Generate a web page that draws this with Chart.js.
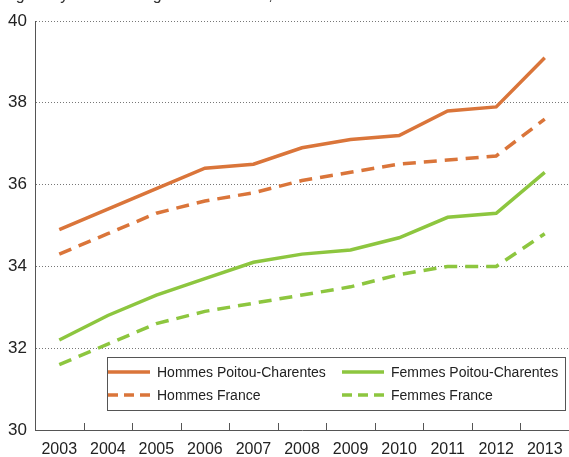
<!DOCTYPE html>
<html>
<head>
<meta charset="utf-8">
<script src="https://cdn.jsdelivr.net/npm/chart.js@4"></script>
<style>
  body { margin: 0; background: #fff; }
  #wrap { width: 569px; height: 457px; }
</style>
</head>
<body>
<div id="wrap"><canvas id="graphique" width="569" height="457"></canvas></div>
<script>
// données
const annees = ['2003', '2004', '2005', '2006', '2007', '2008', '2009', '2010', '2011', '2012', '2013'];
const hommesPC = [34.9, 35.4, 35.9, 36.4, 36.5, 36.9, 37.1, 37.2, 37.8, 37.9, 39.1];
const hommesFrance = [34.3, 34.8, 35.3, 35.6, 35.8, 36.1, 36.3, 36.5, 36.6, 36.7, 37.6];
const femmesPC = [32.2, 32.8, 33.3, 33.7, 34.1, 34.3, 34.4, 34.7, 35.2, 35.3, 36.3];
const femmesFrance = [31.6, 32.1, 32.6, 32.9, 33.1, 33.3, 33.5, 33.8, 34.0, 34.0, 34.8];
const titre = 'Âge moyen au mariage selon le sexe, en années';

const ORANGE = 'rgb(218, 117, 58)';
const VERT = 'rgb(141, 198, 63)';
const POLICE = "'Liberation Sans', Arial, sans-serif";

// titre coupé en haut de l'image (seules les queues des lettres restent visibles)
const titrePlugin = {
    id: 'titre',
    afterDraw(chart) {
        const ctx = chart.ctx;
        ctx.save();
        ctx.font = '16px ' + POLICE;
        ctx.fillStyle = '#333';
        ctx.textBaseline = 'alphabetic';
        ctx.fillText(titre, 5, -0.5);
        ctx.restore();
    }
};

// petites graduations vers le haut entre les années
const graduationsPlugin = {
    id: 'graduations',
    afterDraw(chart) {
        const x = chart.scales.x;
        const ctx = chart.ctx;
        const bas = chart.chartArea.bottom;
        ctx.save();
        ctx.strokeStyle = '#555';
        ctx.lineWidth = 1;
        for (let i = 0; i < annees.length - 1; i++) {
            const px = Math.round((x.getPixelForTick(i) + x.getPixelForTick(i + 1)) / 2) + 0.5;
            ctx.beginPath();
            ctx.moveTo(px, bas);
            ctx.lineTo(px, bas - 7);
            ctx.stroke();
        }
        ctx.restore();
    }
};

// légende encadrée dans la zone du graphique
const legendePlugin = {
    id: 'legende',
    afterDraw(chart) {
        const ctx = chart.ctx;
        const boite = { x: 107.5, y: 357.5, w: 458, h: 53 };
        ctx.save();
        ctx.fillStyle = '#fff';
        ctx.fillRect(boite.x, boite.y, boite.w, boite.h);
        ctx.strokeStyle = '#555';
        ctx.lineWidth = 1;
        ctx.strokeRect(boite.x, boite.y, boite.w, boite.h);

        const colonnes = [108, 342];
        const lignes = [372, 395];
        chart.data.datasets.forEach((ds, i) => {
            const col = colonnes[Math.floor(i / 2)];
            const lig = lignes[i % 2];
            ctx.strokeStyle = ds.borderColor;
            ctx.lineWidth = 3.5;
            ctx.setLineDash(ds.borderDash && ds.borderDash.length ? [10, 6] : []);
            ctx.beginPath();
            ctx.moveTo(col, lig);
            ctx.lineTo(col + 42, lig);
            ctx.stroke();
            ctx.setLineDash([]);
            ctx.fillStyle = '#222';
            ctx.font = '14px ' + POLICE;
            ctx.textBaseline = 'middle';
            ctx.fillText(ds.label, col + 49, lig + 1);
        });
        ctx.restore();
    }
};

const ctx = document.getElementById('graphique').getContext('2d');

new Chart(ctx, {
    type: 'line',
    data: {
        labels: annees,
        datasets: [
            { label: 'Hommes Poitou-Charentes', data: hommesPC, borderColor: ORANGE, borderDash: [] },
            { label: 'Hommes France', data: hommesFrance, borderColor: ORANGE, borderDash: [13, 8] },
            { label: 'Femmes Poitou-Charentes', data: femmesPC, borderColor: VERT, borderDash: [] },
            { label: 'Femmes France', data: femmesFrance, borderColor: VERT, borderDash: [13, 8] }
        ]
    },
    options: {
        responsive: false,
        animation: false,
        layout: { padding: { top: 21, right: -4, bottom: 0, left: 0 } },
        elements: {
            line: { borderWidth: 3.5, tension: 0, fill: false },
            point: { radius: 0, hoverRadius: 0 }
        },
        plugins: {
            legend: { display: false },
            tooltip: { enabled: false }
        },
        scales: {
            x: {
                type: 'category',
                offset: true,
                grid: { display: false, drawTicks: true, tickLength: 8 },
                border: { display: true, color: '#555', width: 1 },
                ticks: {
                    color: '#222',
                    font: { size: 16, family: POLICE },
                    padding: 2,
                    maxRotation: 0,
                    autoSkip: false
                },
                afterFit(scale) { scale.height = 27; }
            },
            y: {
                min: 30,
                max: 40,
                grid: {
                    drawTicks: false,
                    color: c => (c.tick && c.tick.value === 30) ? 'rgba(0,0,0,0)' : '#777',
                    lineWidth: 1
                },
                border: { display: true, color: '#555', width: 1, dash: [1, 2] },
                ticks: {
                    stepSize: 2,
                    color: '#222',
                    font: { size: 17, family: POLICE },
                    padding: 8
                },
                afterFit(scale) { scale.width = 35; }
            }
        }
    },
    plugins: [titrePlugin, graduationsPlugin, legendePlugin]
});
</script>
</body>
</html>
